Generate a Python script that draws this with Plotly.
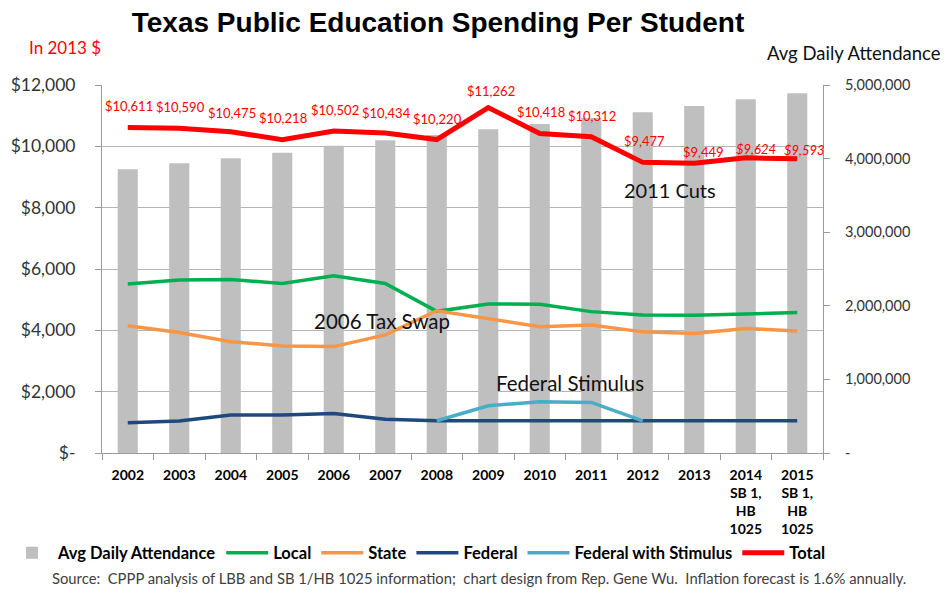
import plotly.graph_objects as go

# ---- data ----
years = ["2002", "2003", "2004", "2005", "2006", "2007", "2008",
         "2009", "2010", "2011", "2012", "2013", "2014", "2015"]
year_labels = ["2002", "2003", "2004", "2005", "2006", "2007", "2008",
               "2009", "2010", "2011", "2012", "2013",
               "2014<br>SB 1,<br>HB<br>1025", "2015<br>SB 1,<br>HB<br>1025"]
attendance = [3855000, 3936000, 4004000, 4080000, 4175000, 4249000, 4320000,
              4398000, 4470000, 4550000, 4629000, 4715000, 4806000, 4887000]
local = [5510, 5640, 5660, 5530, 5780, 5530, 4620, 4860, 4850, 4610, 4500, 4490, 4530, 4580]
state = [4150, 3930, 3630, 3490, 3470, 3850, 4640, 4390, 4120, 4170, 3950, 3900, 4060, 3980]
federal = [990, 1040, 1240, 1240, 1290, 1100, 1050, 1050, 1050, 1050, 1050, 1050, 1050, 1050]
federal_stimulus = [None, None, None, None, None, None, 1050, 1540, 1670, 1650, 1050, None, None, None]
total = [10611, 10590, 10475, 10218, 10502, 10434, 10220, 11262, 10418, 10312, 9477, 9449, 9624, 9593]
projected = [False] * 12 + [True] * 2

left_tickvals = [0, 2000, 4000, 6000, 8000, 10000, 12000]
left_ticktext = ["$-", "$2,000", "$4,000", "$6,000", "$8,000", "$10,000", "$12,000"]
right_tickvals = [0, 1000000, 2000000, 3000000, 4000000, 5000000]
right_ticktext = ["-", "1,000,000", "2,000,000", "3,000,000", "4,000,000", "5,000,000"]

# label offsets (pixels) for the total value labels
label_dy = [22, 21, 19, 22, 21, 20, 21, 17, 22, 21, 21, 11, 9, 9]
label_dx = [1, 1, 1, 1, 1, 1, 1, 3, 1, 1, 2, 9, 10, 7]

W, H = 945, 592
PL, PR, PT, PB = 102, 823, 85, 453


def px_x(p):
    return (p - PL) / (PR - PL)


def px_y(p):
    return (PB - p) / (PB - PT)


FONT = "Lato, 'Open Sans', sans-serif"

fig = go.Figure()
fig.add_trace(go.Bar(x=years, y=attendance, name="Avg Daily Attendance",
                     marker=dict(color="#BFBFBF", line=dict(width=0)), yaxis="y"))
fig.add_trace(go.Scatter(x=years, y=local, name="Local", mode="lines",
                         line=dict(color="#00B050", width=3.5), yaxis="y2"))
fig.add_trace(go.Scatter(x=years, y=state, name="State", mode="lines",
                         line=dict(color="#F79646", width=3.5), yaxis="y2"))
fig.add_trace(go.Scatter(x=years, y=federal, name="Federal", mode="lines",
                         line=dict(color="#1F497D", width=3.5), yaxis="y2"))
fig.add_trace(go.Scatter(x=years, y=federal_stimulus, name="Federal with Stimulus", mode="lines",
                         line=dict(color="#4BACC6", width=3.5), yaxis="y2", connectgaps=False))
fig.add_trace(go.Scatter(x=years, y=total, name="Total", mode="lines",
                         line=dict(color="#FF0000", width=5), yaxis="y2"))

annotations = []
for i, (v, dx, dy, it) in enumerate(zip(total, label_dx, label_dy, projected)):
    txt = f"${v:,}"
    if it:
        txt = f"<i>{txt}</i>"
    annotations.append(dict(x=i, y=v, xref="x", yref="y2", text=txt, showarrow=False,
                            xanchor="center", yanchor="middle",
                            xshift=dx, yshift=dy,
                            font=dict(family=FONT, size=13, color="#FF0000")))


def note(text, x, y, size, color="#111111", xanchor="center"):
    return dict(x=px_x(x), y=px_y(y), xref="paper", yref="paper", text=text, showarrow=False,
                xanchor=xanchor, yanchor="middle",
                font=dict(family=FONT, size=size, color=color))


annotations += [
    note("In 2013 $", 27, 47, 17, "#FF0000", "left"),
    note("Avg Daily Attendance", 943, 53, 18.5, "#111111", "right"),
    note("2011 Cuts", 670, 190, 20),
    note("2006 Tax Swap", 382, 321, 20.5),
    note("Federal Stimulus", 570, 383, 20.5),
    note("Source: \u00a0CPPP analysis of LBB and SB 1/HB 1025 information; \u00a0chart design from "
         "Rep. Gene Wu. \u00a0Inflation forecast is 1.6% annually.", 479, 578, 14.8, "#404040"),
]

axis_col = "#9A9A9A"
fig.update_layout(
    width=W, height=H,
    margin=dict(l=PL, r=W - PR, t=PT, b=H - PB, autoexpand=False),
    paper_bgcolor="white", plot_bgcolor="white",
    title=dict(text="<b>Texas Public Education Spending Per Student</b>",
               x=438 / W, xref="container", xanchor="center",
               y=1 - 22 / H, yref="container", yanchor="middle",
               font=dict(family="'Liberation Sans', Arial, sans-serif", size=28, color="black")),
    bargap=0.61,
    showlegend=True,
    legend=dict(orientation="h", xref="paper", yref="paper",
                x=px_x(6), y=px_y(553), xanchor="left", yanchor="middle",
                font=dict(family=FONT, size=16.5, color="black", weight="bold"),
                traceorder="normal", itemwidth=42, bgcolor="rgba(0,0,0,0)"),
    xaxis=dict(type="category", range=[-0.5, 13.5], tickvals=years, ticktext=year_labels,
               showline=True, linecolor=axis_col, linewidth=1,
               ticks="outside", tickson="boundaries", ticklen=6, tickcolor=axis_col,
               showgrid=False, ticklabelstandoff=9,
               tickfont=dict(family=FONT, size=14, color="black", weight="bold")),
    yaxis=dict(side="right", range=[0, 5000000], tickvals=right_tickvals, ticktext=right_ticktext,
               showgrid=False, zeroline=False, showline=True, linecolor=axis_col,
               ticks="outside", ticklen=6, tickcolor=axis_col, ticklabelstandoff=12,
               tickfont=dict(family=FONT, size=14.5, color="#333333")),
    yaxis2=dict(side="left", overlaying="y", range=[0, 12000], tickvals=left_tickvals,
                ticktext=left_ticktext, showgrid=True, gridcolor="#B4B4B4", gridwidth=1,
                zeroline=False, showline=True, linecolor=axis_col,
                ticks="outside", ticklen=6, tickcolor=axis_col, ticklabelstandoff=16,
                tickfont=dict(family=FONT, size=17.5, color="#333333")),
    annotations=annotations,
)

fig.write_html("out.html", config={"displayModeBar": False},
               post_script="document.body.style.margin='0';")
